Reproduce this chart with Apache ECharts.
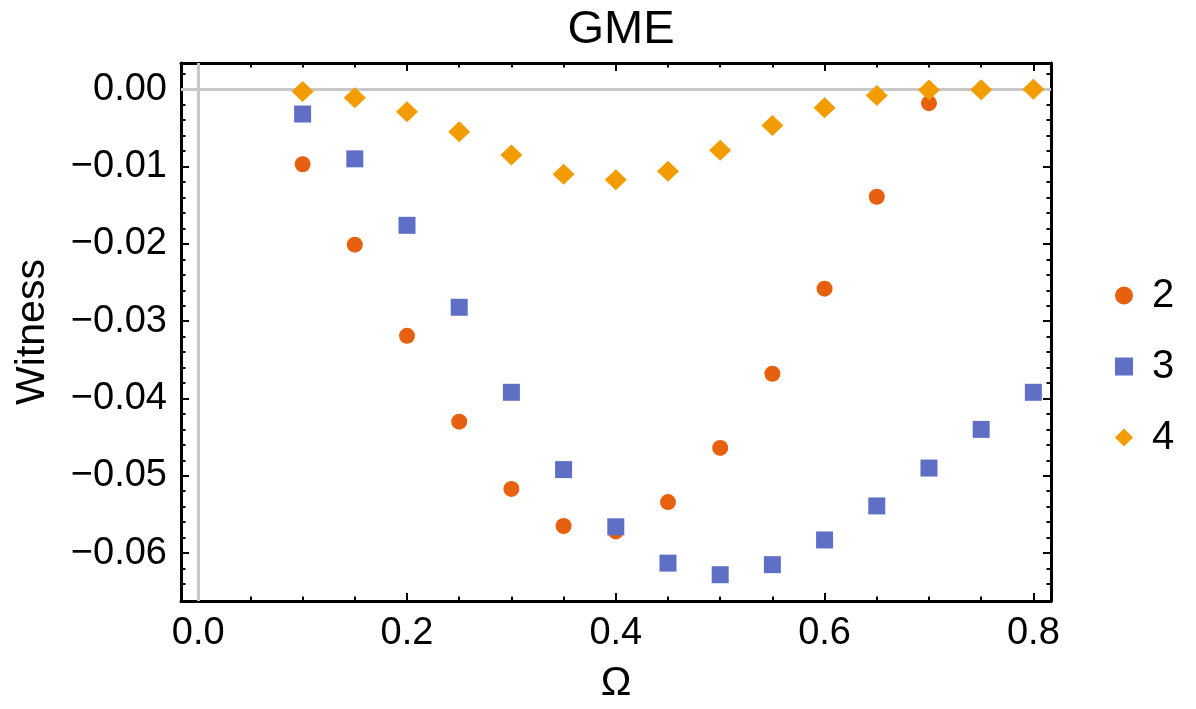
<!DOCTYPE html>
<html>
<head>
<meta charset="utf-8">
<script src="https://cdn.jsdelivr.net/npm/echarts@6/dist/echarts.min.js"></script>
<style>
  html, body { margin: 0; padding: 0; background: #ffffff; }
  #chart { width: 1196px; height: 709px; }
</style>
</head>
<body>
<div id="chart"></div>
<script>
// Ω values sampled
const omega = [0.10, 0.15, 0.20, 0.25, 0.30, 0.35, 0.40, 0.45, 0.50, 0.55, 0.60, 0.65, 0.70, 0.75, 0.80];
// witness values per series (series "2" stops at Ω = 0.70)
const witness2 = [-0.0097, -0.0201, -0.0319, -0.0430, -0.0517, -0.0565, -0.0572, -0.0534, -0.0464, -0.0368, -0.0258, -0.0139, -0.0018];
const witness3 = [-0.0032, -0.0090, -0.0176, -0.0282, -0.0392, -0.0492, -0.0566, -0.0613, -0.0628, -0.0615, -0.0583, -0.0539, -0.0490, -0.0440, -0.0392];
const witness4 = [-0.0003, -0.0011, -0.0029, -0.0055, -0.0085, -0.0110, -0.0117, -0.0106, -0.0079, -0.0047, -0.0024, -0.0008, -0.0001, -0.00005, 0.0];
const seriesNames = ['2', '3', '4'];

// tick positions
const xMajor = [0.0, 0.2, 0.4, 0.6, 0.8];
const xMinor = [0.05, 0.1, 0.15, 0.25, 0.3, 0.35, 0.45, 0.5, 0.55, 0.65, 0.7, 0.75];
const yMajor = [0.00, -0.01, -0.02, -0.03, -0.04, -0.05, -0.06];
const yMinor = [0.002, -0.002, -0.004, -0.006, -0.008, -0.012, -0.014, -0.016, -0.018,
  -0.022, -0.024, -0.026, -0.028, -0.032, -0.034, -0.036, -0.038,
  -0.042, -0.044, -0.046, -0.048, -0.052, -0.054, -0.056, -0.058, -0.062, -0.064];

const X_MIN = -0.0165, X_MAX = 0.8169;
const Y_MIN = -0.0662, Y_MAX = 0.0034;

const FONT = '"Liberation Sans", Arial, Helvetica, sans-serif';
const colors = ['#E6600F', '#5F6FC6', '#F29C00'];

const pairs = (ys) => ys.map((y, i) => [omega[i], y]);

function fmtY(v) {
  const r = Math.round(v * 100) / 100;
  if (Math.abs(r) < 1e-9) return '0.00';
  return (r < 0 ? '\u2212' : '') + Math.abs(r).toFixed(2);
}

// one frame edge: a major-tick axis (with the frame line) and a minor-tick axis
function frameAxis(pos, min, max, major, minor, withLabels, fmt) {
  const common = {
    type: 'value', position: pos, min: min, max: max,
    splitLine: { show: false }
  };
  const majorAxis = Object.assign({}, common, {
    axisLine: { show: true, onZero: false, lineStyle: { color: '#000', width: 3 } },
    axisTick: { show: true, inside: true, length: 8, customValues: major, lineStyle: { color: '#000', width: 2 } },
    axisLabel: withLabels ? {
      show: true, customValues: major, formatter: fmt,
      fontFamily: FONT, fontSize: 38, color: '#000', margin: 14
    } : { show: false }
  });
  const minorAxis = Object.assign({}, common, {
    axisLine: { show: false, onZero: false },
    axisTick: { show: true, inside: true, length: 4.5, customValues: minor, lineStyle: { color: '#000', width: 2 } },
    axisLabel: { show: false }
  });
  return [majorAxis, minorAxis];
}

const xAxes = [
  ...frameAxis('bottom', X_MIN, X_MAX, xMajor, xMinor, true, (v) => v.toFixed(1)),
  ...frameAxis('top', X_MIN, X_MAX, xMajor, xMinor, false)
];
xAxes[0].name = '\u03A9';
xAxes[0].nameLocation = 'middle';
xAxes[0].nameGap = 62;
xAxes[0].nameTextStyle = { fontFamily: FONT, fontSize: 41, color: '#000' };

const yAxes = [
  ...frameAxis('left', Y_MIN, Y_MAX, yMajor, yMinor, true, fmtY),
  ...frameAxis('right', Y_MIN, Y_MAX, yMajor, yMinor, false)
];
yAxes[0].name = 'Witness';
yAxes[0].nameLocation = 'middle';
yAxes[0].nameRotate = 90;
yAxes[0].nameGap = 128;
yAxes[0].nameTextStyle = { fontFamily: FONT, fontSize: 41, color: '#000' };

const chart = echarts.init(document.getElementById('chart'), null, { renderer: 'canvas' });
chart.setOption({
  animation: false,
  backgroundColor: '#ffffff',
  title: {
    text: 'GME',
    left: 616, top: 2, textAlign: 'center',
    textStyle: { fontFamily: FONT, fontSize: 47, fontWeight: 'normal', color: '#000' }
  },
  legend: {
    orient: 'vertical',
    left: 1110, top: 270,
    itemWidth: 18, itemHeight: 18, itemGap: 30,
    textStyle: { fontFamily: FONT, fontSize: 40, color: '#000', lineHeight: 41, padding: [0, 0, 0, 14] },
    data: [
      { name: seriesNames[0], icon: 'circle' },
      { name: seriesNames[1], icon: 'rect' },
      { name: seriesNames[2], icon: 'diamond' }
    ]
  },
  grid: { left: 181, right: 145, top: 63, bottom: 108, containLabel: false },
  xAxis: xAxes,
  yAxis: yAxes,
  series: [
    {
      // zero reference lines
      type: 'line', data: [], z: 1, silent: true,
      markLine: {
        silent: true, symbol: 'none', label: { show: false },
        lineStyle: { color: '#c8c8c8', width: 3, type: 'solid' },
        data: [{ xAxis: 0 }, { yAxis: 0 }]
      }
    },
    {
      name: seriesNames[0], type: 'scatter', symbol: 'circle', symbolSize: 16,
      itemStyle: { color: colors[0], opacity: 1 }, z: 3,
      data: pairs(witness2)
    },
    {
      name: seriesNames[1], type: 'scatter', symbol: 'rect', symbolSize: 17,
      itemStyle: { color: colors[1], opacity: 1 }, z: 4,
      data: pairs(witness3)
    },
    {
      name: seriesNames[2], type: 'scatter', symbol: 'diamond', symbolSize: [22, 21],
      itemStyle: { color: colors[2], opacity: 1 }, z: 5,
      data: pairs(witness4)
    }
  ]
});
</script>
</body>
</html>
